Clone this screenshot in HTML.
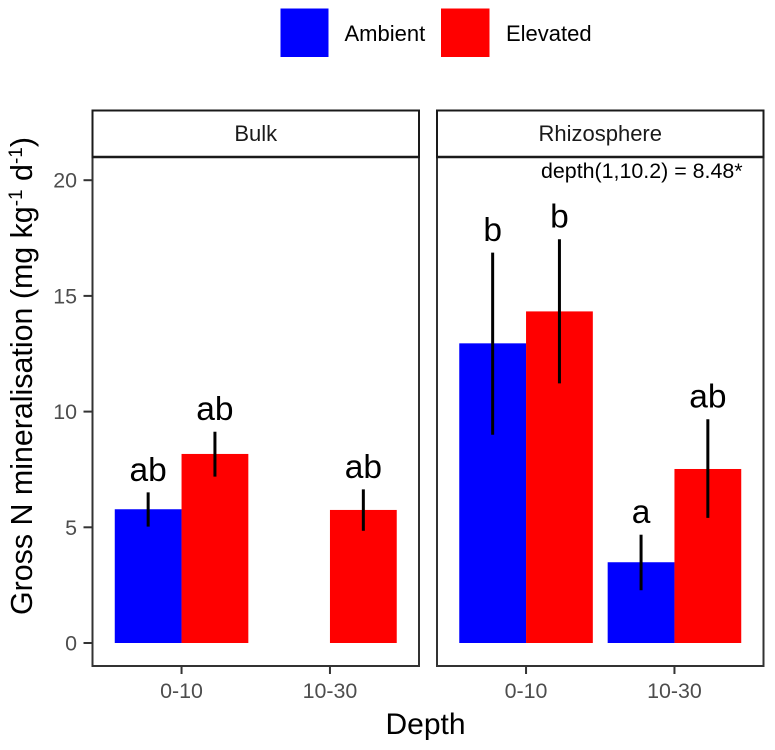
<!DOCTYPE html>
<html>
<head>
<meta charset="utf-8">
<title>Gross N mineralisation by depth</title>
<style>
html,body{margin:0;padding:0;background:#fff;}
svg{display:block;font-family:"Liberation Sans",sans-serif;}
</style>
</head>
<body>
<svg id="chart" xmlns="http://www.w3.org/2000/svg" width="775" height="750" viewBox="0 0 775 750">
  <rect x="0" y="0" width="775" height="750" fill="#fff"/>
  <g id="legend">
    <g>
      <rect x="280.5" y="8.5" width="48" height="48.5" fill="#0000ff"/>
      <text x="344.5" y="41" font-size="22" fill="#000">Ambient</text>
    </g>
    <g>
      <rect x="441" y="8.5" width="48.5" height="48.5" fill="#ff0000"/>
      <text x="506" y="41" font-size="22" fill="#000">Elevated</text>
    </g>
  </g>
  <g id="plot"></g>
  <text x="425.5" y="734" font-size="30" text-anchor="middle" fill="#000">Depth</text>
  <text transform="translate(32 376) rotate(-90)" font-size="30.4" text-anchor="middle" fill="#000">Gross N mineralisation (mg kg<tspan dy="-10" font-size="19">-1</tspan><tspan dy="10"> d</tspan><tspan dy="-10" font-size="19">-1</tspan><tspan dy="10">)</tspan></text>
</svg>
<script>
const panels = ["Bulk", "Rhizosphere"];
const categories = ["0-10", "10-30"];
const treatments = ["Ambient", "Elevated"];
const treatmentColors = ["#0000ff", "#ff0000"];
const yTicks = [0, 5, 10, 15, 20];

// Indexed [panel][category][treatment]; null = no bar
const barValues = [
  [[5.78, 8.17], [null, 5.75]],
  [[12.95, 14.33], [3.49, 7.52]]
];
const errorLow = [
  [[5.03, 7.19], [null, 4.85]],
  [[9.0, 11.22], [2.28, 5.41]]
];
const errorHigh = [
  [[6.51, 9.13], [null, 6.64]],
  [[16.87, 17.45], [4.68, 9.67]]
];
const sigLabels = [
  [["ab", "ab"], [null, "ab"]],
  [["b", "b"], ["a", "ab"]]
];
const annotationText = "depth(1,10.2) = 8.48*";

const NS = "http://www.w3.org/2000/svg";
const plot = document.getElementById("plot");
const panelLeft = [92.5, 437];
const panelWidth = 326.5;
const panelTop = 157;
const panelBottom = 666;
const stripTop = 110.5;

function yScale(v) { return 643 - v * 23.14; }
function xScale(panel, catIndex) {
  const unit = panelWidth / 2.2;
  return panelLeft[panel] + (0.6 + catIndex) * unit;
}
function barWidth() { return panelWidth / 2.2 * 0.45; }
function make(tag, attrs, parent) {
  const el = document.createElementNS(NS, tag);
  for (const k in attrs) el.setAttribute(k, attrs[k]);
  parent.appendChild(el);
  return el;
}

panels.forEach(function (panelName, p) {
  const g = make("g", {}, plot);
  
  

  // strip
  const strip = make("rect", { x: panelLeft[p], y: stripTop, width: panelWidth, height: panelTop - stripTop, fill: "#fff", stroke: "#1a1a1a", "stroke-width": 2 }, g);
  
  
  const stripLabel = make("text", { x: panelLeft[p] + panelWidth / 2, y: 141, "font-size": 22, "text-anchor": "middle", fill: "#1a1a1a" }, g);
  stripLabel.textContent = panelName;
  
  

  // bars
  categories.forEach(function (cat, c) {
    treatments.forEach(function (tr, t) {
      const v = barValues[p][c][t];
      if (v === null) return;
      const w = barWidth();
      const x = xScale(p, c) + (t === 0 ? -w : 0);
      const bar = make("rect", { x: x, y: yScale(v), width: w, height: yScale(0) - yScale(v), fill: treatmentColors[t] }, g);
      
      
    });
  });

  // error bars and significance labels
  categories.forEach(function (cat, c) {
    treatments.forEach(function (tr, t) {
      if (barValues[p][c][t] === null) return;
      const w = barWidth();
      const cx = xScale(p, c) + (t === 0 ? -w / 2 : w / 2);
      const err = make("line", { x1: cx, x2: cx, y1: yScale(errorLow[p][c][t]), y2: yScale(errorHigh[p][c][t]), stroke: "#000", "stroke-width": 3 }, g);
      
      
      const lab = make("text", { x: cx, y: yScale(errorHigh[p][c][t]) - 11.5, "font-size": 33.5, "text-anchor": "middle", fill: "#000" }, g);
      lab.textContent = sigLabels[p][c][t];
      
      
    });
  });

  // panel border
  const border = make("rect", { x: panelLeft[p], y: panelTop, width: panelWidth, height: panelBottom - panelTop, fill: "none", stroke: "#333333", "stroke-width": 2 }, g);
  
  
  const stripLine = make("line", { x1: panelLeft[p] - 1, x2: panelLeft[p] + panelWidth + 1, y1: panelTop, y2: panelTop, stroke: "#1a1a1a", "stroke-width": 2.6 }, g);
  
  

  // x ticks
  categories.forEach(function (cat, c) {
    const x = xScale(p, c);
    const tick = make("line", { x1: x, x2: x, y1: panelBottom, y2: panelBottom + 8, stroke: "#333333", "stroke-width": 2 }, g);
    
    
    const label = make("text", { x: x, y: 698, "font-size": 21.4, "text-anchor": "middle", fill: "#4d4d4d" }, g);
    label.textContent = cat;
    
    
  });

  // annotation
  if (p === 1) {
    const note = make("text", { x: 541, y: 178, "font-size": 21.4, fill: "#000" }, g);
    note.textContent = annotationText;
    
    
  }
});

// y axis
yTicks.forEach(function (v) {
  const y = yScale(v);
  const tick = make("line", { x1: panelLeft[0] - 9, x2: panelLeft[0], y1: y, y2: y, stroke: "#333333", "stroke-width": 2 }, plot);
  
  
  const label = make("text", { x: 77, y: y + 7.5, "font-size": 21.4, "text-anchor": "end", fill: "#4d4d4d" }, plot);
  label.textContent = String(v);
  
  
});
</script>
</body>
</html>
